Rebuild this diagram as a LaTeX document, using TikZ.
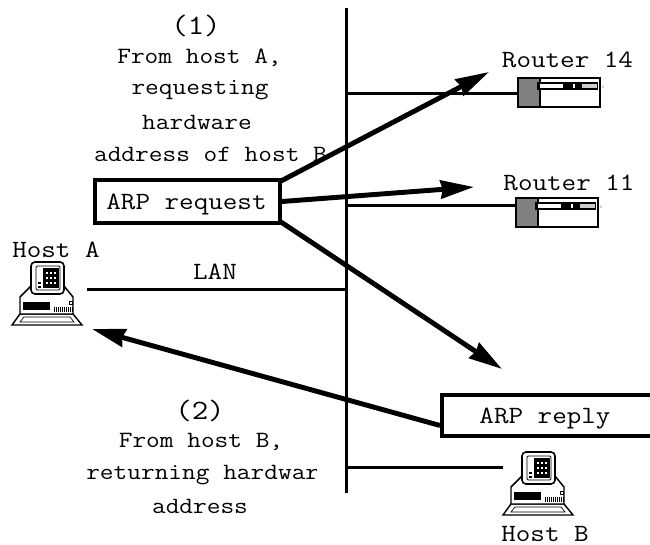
\documentclass[tikz,border=0pt]{standalone}
\usepackage{fontspec}
\setmonofont{Latin Modern Mono}[FakeStretch=1.14]
\usetikzlibrary{arrows.meta}
\tikzset{
  x=0.75pt,y=-0.75pt,
  caption text/.style={font=\ttfamily\fontsize{17.5}{18}\selectfont,inner sep=0,text=black},
  label text/.style={font=\ttfamily\fontsize{18.6}{18}\selectfont,inner sep=0,text=black},
  number text/.style={font=\ttfamily\fontsize{21}{21}\selectfont,inner sep=0,text=black},
  wire/.style={line width=2.25pt,black},
  bus/.style={line width=2.25pt,black},
  msgbox/.style={draw=black,line width=3pt,fill=white,inner sep=0},
  msgarrow/.style={line width=3.7pt,black,-{Stealth[length=25pt,width=13.5pt,inset=1.5pt]}},
  hosticon/.pic={
    \draw[black,line width=1.1pt,fill=white] (8,52)--(0,63)--(70,63)--(61,52)--cycle;
    \draw[black,line width=.5pt] (12,55)--(8,60)--(62,60)--(58,55)--cycle;
    \draw[black,line width=1.1pt,fill=white] (8,35)--(19,24)--(52,24)--(61,35)--(61,52)--(8,52)--cycle;
    \fill[black] (11,40) rectangle (38,48);
    \draw[black,line width=.5pt] (57,39) rectangle (60,42);
    \foreach \k in {0,...,9} \fill[black] (42+2*\k,45) rectangle +(1,5);
    \draw[black,line width=1.2pt,fill=white,rounded corners=3pt] (19,0) rectangle (52,32);
    \draw[black,line width=.7pt,fill=white,rounded corners=1pt] (24,4) rectangle (48,28);
    \fill[black] (31,6) rectangle (47,26);
    \foreach \i in {0,1,2} \foreach \j in {0,1,2} \fill[white] (34+4*\i,10+5*\j) rectangle +(2.4,2);
    \foreach \j in {0,1} \fill[black] (26,20+4*\j) rectangle +(3,2);
  },
  routericon/.pic={
    \fill[gray] (0,0) rectangle (22,29);
    \draw[black,line width=1.7pt] (0,0) rectangle (82,29);
    \draw[black,line width=1.2pt] (22,0)--(22,29);
    \fill[black] (19,4) rectangle (80,12);
    \fill[white] (22,6) rectangle (45,10);
    \fill[white] (55,6) rectangle (57,10);
    \fill[black!20] (64,6) rectangle (79,10);
    \node[font=\ttfamily\fontsize{3}{3}\selectfont,text=gray,inner sep=0] at (85,9) {2};
  }
}
\begin{document}
\begin{tikzpicture}
\useasboundingbox (0,0) rectangle (650,545);
% captions, cut off on the right as in the picture
\begin{scope}
  \clip (0,0) rectangle (330,440) (0,440) rectangle (316,545);
  \node[number text] (t1) at (196,26) {(1)};
  \node[caption text] (t2) at (199.5,58) {From host A,};
  \node[caption text] (t3) at (200,90) {requesting};
  \node[caption text] (t4) at (197,122) {hardware};
  \node[caption text] (t5) at (210.5,154) {address of host B};
  \node[number text] (t6) at (200,411) {(2)};
  \node[caption text] (t7) at (201,442) {From host B,};
  \node[caption text,anchor=west] (t8) at (86,475) {returning hardware};
  \node[caption text] (t9) at (200,506) {address};
\end{scope}
% wires
\coordinate (top) at (346.5,8);
\coordinate (bot) at (346.5,493);
\draw[bus] (top)--(bot);
\pic at (518,78) {routericon};
\pic at (516,198) {routericon};
\pic at (12,262) {hosticon};
\pic at (503,452) {hosticon};
\coordinate (r14) at (518,93.5);
\coordinate (r11) at (516,205.5);
\coordinate (ha) at (87,289.5);
\coordinate (hb) at (503,467.5);
\coordinate (b14) at (346.5,93.5);
\coordinate (b11) at (346.5,205.5);
\coordinate (ba) at (346.5,289.5);
\coordinate (bb) at (346.5,467.5);
\draw[wire] (b14)--(r14);
\draw[wire] (b11)--(r11);
\draw[wire] (ha)--(ba);
\draw[wire] (bb)--(hb);
% labels
\node[label text] (l14) at (567.5,60) {Router 14};
\node[label text] (l11) at (569,183) {Router 11};
\node[label text] (la) at (56,250) {Host A};
\node[label text] (lb) at (545,534) {Host B};
\node[label text] (lan) at (215,272) {LAN};
% boxes
\node[msgbox,minimum width=138.75pt,minimum height=32.25pt] (req) at (187.5,201.5) {};
\node[label text] (reqtext) at (186.5,205) {ARP request};
\node[msgbox,anchor=west,minimum width=170pt,minimum height=30.75pt] (rep) at (440,415.5) {};
\node[label text] (reptext) at (545,418.5) {ARP reply};
% arrows
\coordinate (e14) at (489,72);
\coordinate (e11) at (474,187);
\coordinate (e3) at (502,369);
\coordinate (ea) at (92,329);
\draw[msgarrow] (req.north east)++(-1,3) -- (e14);
\draw[msgarrow] (req.east) -- (e11);
\draw[msgarrow] (req.south east)++(-1,-3) -- (e3);
\draw[msgarrow] (rep.west)++(0,10) -- (ea);
\end{tikzpicture}
\end{document}
